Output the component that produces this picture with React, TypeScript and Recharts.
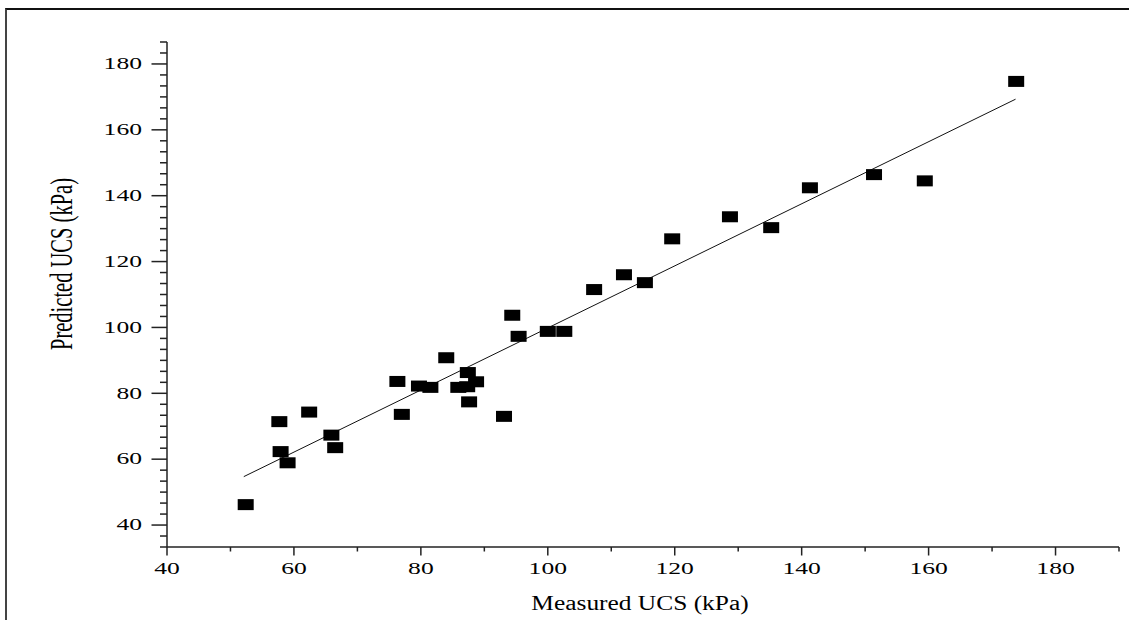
import { ScatterChart, Scatter, XAxis, YAxis, Label } from "recharts";

const measured = [
  52.4, 57.7, 62.4, 57.9, 59.0, 65.9, 66.5, 76.3, 77.0, 79.7, 81.5, 84.0, 85.9, 87.3, 87.4, 88.7,
  87.6, 93.1, 94.4, 95.4, 100.0, 102.6, 107.3, 112.0, 115.3, 119.6, 128.7, 135.2, 141.3, 151.4,
  159.4, 173.8,
];
const predicted = [
  46.2, 71.4, 74.3, 62.3, 58.9, 67.3, 63.5, 83.6, 73.6, 82.2, 81.8, 90.8, 81.8, 82.0, 86.3, 83.5,
  77.4, 73.0, 103.7, 97.3, 98.8, 98.8, 111.5, 116.0, 113.6, 126.9, 133.6, 130.3, 142.4, 146.4,
  144.5, 174.7,
];

// linear fit endpoints
const fitX = [52.1, 173.7];
const fitY = [54.7, 169.3];

const xMajor = [40, 60, 80, 100, 120, 140, 160, 180];
const xMinor = [50, 70, 90, 110, 130, 150, 170, 190];
const yMajor = [40, 60, 80, 100, 120, 140, 160, 180];

const points = measured.map((x, i) => ({ x, y: predicted[i] }));
const fitLine = fitX.map((x, i) => ({ x, y: fitY[i] }));

const xTicks = [...xMajor, ...xMinor].sort((a, b) => a - b);
// y minor ticks every 20/6
const yTicks = Array.from({ length: 47 }, (_, i) => +(33.3333 + (i * 20) / 6).toFixed(3));

const FONT = "'Liberation Serif', 'Times New Roman', serif";
// the source image is stretched sideways, so the text is too
const STRETCH = 1.6;

const XTick = (props: any) => {
  const { x, y, payload } = props;
  const v = payload.value;
  const major = xMajor.includes(v);
  return (
    <g>
      <line x1={x} x2={x} y1={y} y2={y + (major ? 8.5 : 4.5)} stroke="#222" strokeWidth={1.5} />
      {major && (
        <text
          transform={`translate(${x},${y + 22}) scale(${STRETCH},1)`}
          textAnchor="middle"
          dominantBaseline="central"
          fontFamily={FONT}
          fontSize={16}
          fill="#000"
        >
          {v}
        </text>
      )}
    </g>
  );
};

const YTick = (props: any) => {
  const { x, y, payload } = props;
  const v = payload.value;
  const major = yMajor.some((m) => Math.abs(m - v) < 0.01);
  return (
    <g>
      <line x1={x} x2={x - (major ? 15.5 : 7)} y1={y} y2={y} stroke="#222" strokeWidth={1.5} />
      {major && (
        <text
          transform={`translate(${x - 25},${y}) scale(${STRETCH},1)`}
          textAnchor="end"
          dominantBaseline="central"
          fontFamily={FONT}
          fontSize={16}
          fill="#000"
        >
          {Math.round(v)}
        </text>
      )}
    </g>
  );
};

const Square = (props: any) => {
  const { cx, cy } = props;
  return <rect x={cx - 8} y={cy - 5.5} width={16} height={11} fill="#000" />;
};

export default function App() {
  return (
    <div style={{ position: "absolute", left: 0, top: 0, width: 1129, height: 620, background: "#fff" }}>
      <div
        style={{
          position: "absolute",
          left: 5,
          top: 8,
          width: 1124,
          height: 612,
          borderTop: "2px solid #111",
          borderLeft: "2px solid #444",
        }}
      />
      <ScatterChart width={1129} height={620} margin={{ top: 42, right: 10, bottom: 0, left: 0 }}>
        <XAxis
          type="number"
          dataKey="x"
          domain={[40, 190]}
          ticks={xTicks}
          interval={0}
          allowDataOverflow
          height={73}
          tickSize={0}
          tickMargin={0}
          tick={<XTick />}
          axisLine={{ stroke: "#222", strokeWidth: 1.5 }}
          tickLine={false}
        >
          <Label
            content={() => (
              <text
                transform={`translate(640,603) scale(1.27,1)`}
                textAnchor="middle"
                dominantBaseline="central"
                fontFamily={FONT}
                fontSize={20}
                fill="#000"
              >
                Measured UCS (kPa)
              </text>
            )}
          />
        </XAxis>
        <YAxis
          type="number"
          dataKey="y"
          domain={[33.3333, 186.6667]}
          ticks={yTicks}
          interval={0}
          allowDataOverflow
          width={167}
          tickSize={0}
          tickMargin={0}
          tick={<YTick />}
          axisLine={{ stroke: "#222", strokeWidth: 1.5 }}
          tickLine={false}
        >
          <Label
            content={() => (
              <text
                transform="translate(62,264) rotate(-90) scale(1,1.5)"
                textAnchor="middle"
                dominantBaseline="central"
                fontFamily={FONT}
                fontSize={20.5}
                fill="#000"
              >
                Predicted UCS (kPa)
              </text>
            )}
          />
        </YAxis>
        <Scatter
          data={fitLine}
          line={{ stroke: "#111", strokeWidth: 1 }}
          shape={() => <g />}
          isAnimationActive={false}
        />
        <Scatter data={points} shape={<Square />} isAnimationActive={false} />
      </ScatterChart>
    </div>
  );
}
